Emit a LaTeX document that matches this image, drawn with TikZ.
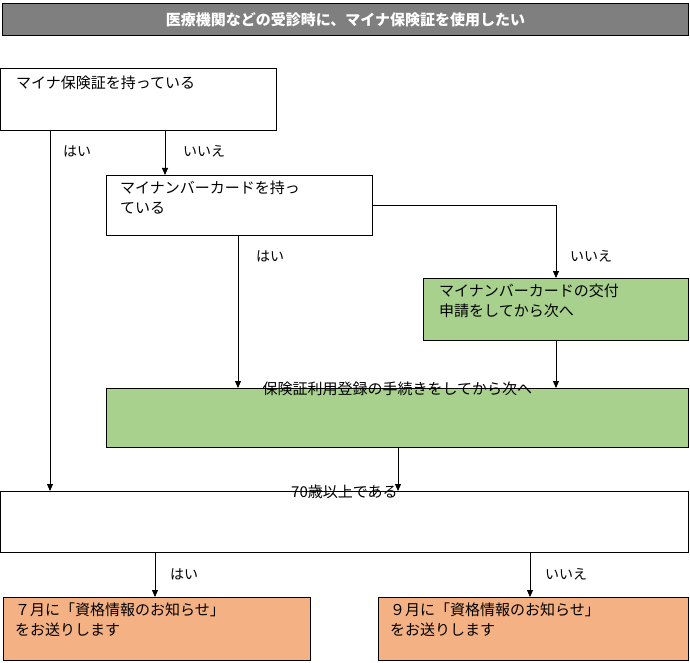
\documentclass[tikz,border=0pt]{standalone}
\usepackage{fontspec}
\setmainfont{Noto Sans CJK JP}
\usetikzlibrary{arrows.meta}
\definecolor{titlegray}{HTML}{7F7F7F}
\definecolor{stepgreen}{HTML}{A9D18E}
\definecolor{resorange}{HTML}{F4B183}
\tikzset{
  box/.style={draw=black, line width=0.9pt, anchor=north west, inner sep=0pt},
  txt/.style={anchor=north west, font=\fontsize{15}{20}\selectfont, align=left, inner sep=0pt},
  lab/.style={font=\fontsize{14}{16}\selectfont, inner sep=0pt},
  arr/.style={-{Triangle[length=7pt,width=6pt]}, line width=0.8pt},
}
\begin{document}
\begin{tikzpicture}[x=1pt,y=-1pt]
  \useasboundingbox (0,0) rectangle (690,663);
  % title
  \node[box, fill=titlegray, minimum width=686, minimum height=32,
        font=\fontsize{15}{18}\selectfont\bfseries, text=white] (title) at (2,3)
        {医療機関などの受診時に、マイナ保険証を使用したい};
  % boxes
  \node[box, fill=white, minimum width=276, minimum height=62] (have) at (0,68) {};
  \node[txt] at ([shift={(16,8)}]have.north west) {マイナ保険証を持っている};
  \node[box, fill=white, minimum width=266, minimum height=60] (card) at (106,175) {};
  \node[txt] at ([shift={(14,6)}]card.north west) {マイナンバーカードを持っ\\ている};
  \node[box, fill=stepgreen, minimum width=265, minimum height=62] (apply) at (423,278) {};
  \node[txt] at ([shift={(16,6)}]apply.north west) {マイナンバーカードの交付\\申請をしてから次へ};
  \node[box, fill=stepgreen, minimum width=582, minimum height=59] (reg) at (106,388) {};
  \node[txt, anchor=north] at ([yshift=6]reg.north) {保険証利用登録の手続きをしてから次へ};
  \node[box, fill=white, minimum width=688, minimum height=61] (age) at (0,491) {};
  \node[txt, anchor=north] at ([yshift=6]age.north) {70歳以上である};
  \node[box, fill=resorange, minimum width=307, minimum height=63] (jul) at (3,597) {};
  \node[txt] at ([shift={(12,6)}]jul.north west) {７月に「資格情報のお知らせ」\\をお送りします};
  \node[box, fill=resorange, minimum width=310, minimum height=63] (sep) at (378,597) {};
  \node[txt] at ([shift={(12,6)}]sep.north west) {９月に「資格情報のお知らせ」\\をお送りします};
  % connectors
  \draw[arr] (have.south -| 50,0) -- (age.north -| 50,0);
  \draw[arr] (have.south -| 165,0) -- (card.north -| 165,0);
  \draw[arr] (card.east |- 0,205) -| (apply.north -| 556,0);
  \draw[arr] (card.south -| 238,0) -- (reg.north -| 238,0);
  \draw[arr] (apply.south -| 556,0) -- (reg.north -| 556,0);
  \draw[arr] (reg.south -| 398,0) -- (age.north -| 398,0);
  \draw[arr] (age.south -| 155,0) -- (jul.north -| 155,0);
  \draw[arr] (age.south -| 530,0) -- (sep.north -| 530,0);
  % labels
  \node[lab, anchor=west] at (63,151) {はい};
  \node[lab, anchor=west] at (183,151) {いいえ};
  \node[lab, anchor=west] at (256,256) {はい};
  \node[lab, anchor=west] at (570,256) {いいえ};
  \node[lab, anchor=west] at (170,574) {はい};
  \node[lab, anchor=west] at (545,574) {いいえ};
\end{tikzpicture}
\end{document}
